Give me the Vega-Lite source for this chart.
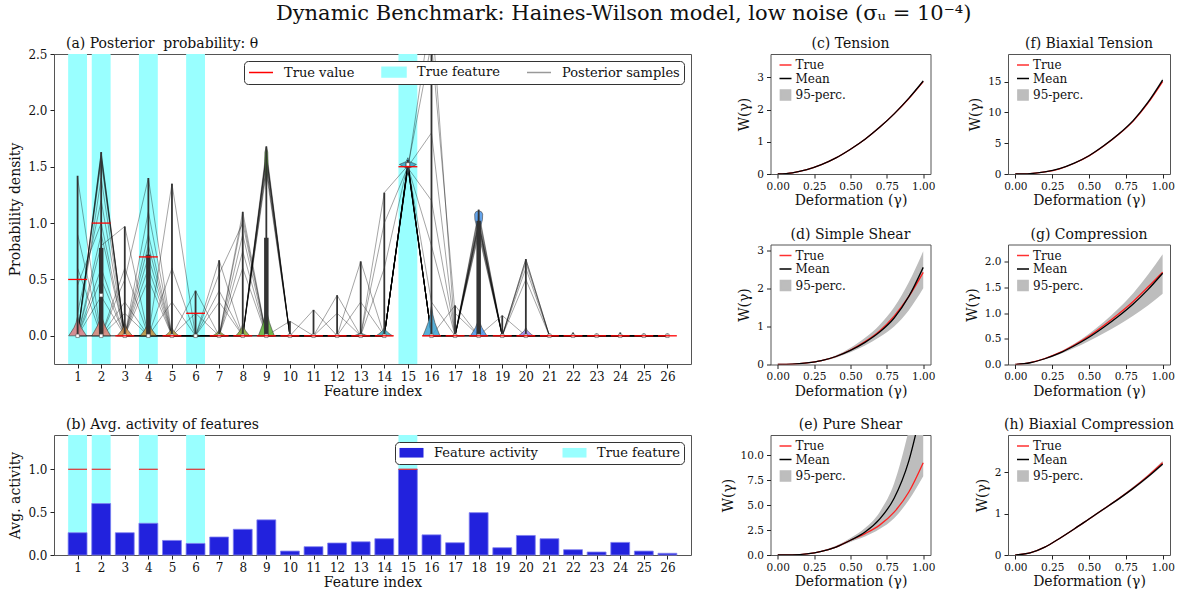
{
"$schema": "https://vega.github.io/schema/vega-lite/v6.json",
"padding": {"left": 8, "top": 3, "right": 5, "bottom": 5},
"title": {"text": "Dynamic Benchmark: Haines-Wilson model, low noise (σᵤ = 10⁻⁴)", "fontSize": 21, "anchor": "middle", "offset": 12.5, "dx": 32, "frame": "bounds"},
"spacing": 28.5,
"resolve": {"scale": {"color": "independent", "fill": "independent", "stroke": "independent", "shape": "independent"}, "legend": {"color": "independent", "fill": "independent", "stroke": "independent", "shape": "independent"}},
"datasets": {
"samples": [
{"s":1,"f":1,"v":0},{"s":1,"f":2,"v":1.6},{"s":1,"f":3,"v":0},{"s":1,"f":4,"v":0},{"s":1,"f":5,"v":0},{"s":1,"f":6,"v":0},{"s":1,"f":7,"v":0},{"s":1,"f":8,"v":0},{"s":1,"f":9,"v":1.6},{"s":1,"f":10,"v":0},{"s":1,"f":11,"v":0},{"s":1,"f":12,"v":0},{"s":1,"f":13,"v":0},{"s":1,"f":14,"v":0},{"s":1,"f":15,"v":1.52},{"s":1,"f":16,"v":0},{"s":1,"f":17,"v":0},{"s":1,"f":18,"v":1.0},{"s":1,"f":19,"v":0},{"s":1,"f":20,"v":0},{"s":1,"f":21,"v":0},{"s":1,"f":22,"v":0},{"s":1,"f":23,"v":0},{"s":1,"f":24,"v":0},{"s":1,"f":25,"v":0},{"s":1,"f":26,"v":0},
{"s":2,"f":1,"v":0},{"s":2,"f":2,"v":1.55},{"s":2,"f":3,"v":0},{"s":2,"f":4,"v":0},{"s":2,"f":5,"v":0},{"s":2,"f":6,"v":0},{"s":2,"f":7,"v":0},{"s":2,"f":8,"v":1.05},{"s":2,"f":9,"v":0},{"s":2,"f":10,"v":0},{"s":2,"f":11,"v":0},{"s":2,"f":12,"v":0},{"s":2,"f":13,"v":0},{"s":2,"f":14,"v":0},{"s":2,"f":15,"v":1.5},{"s":2,"f":16,"v":0},{"s":2,"f":17,"v":0},{"s":2,"f":18,"v":0.95},{"s":2,"f":19,"v":0},{"s":2,"f":20,"v":0.65},{"s":2,"f":21,"v":0},{"s":2,"f":22,"v":0},{"s":2,"f":23,"v":0},{"s":2,"f":24,"v":0},{"s":2,"f":25,"v":0},{"s":2,"f":26,"v":0},
{"s":3,"f":1,"v":0.45},{"s":3,"f":2,"v":1.0},{"s":3,"f":3,"v":0},{"s":3,"f":4,"v":0.9},{"s":3,"f":5,"v":0},{"s":3,"f":6,"v":0},{"s":3,"f":7,"v":0},{"s":3,"f":8,"v":0},{"s":3,"f":9,"v":1.55},{"s":3,"f":10,"v":0},{"s":3,"f":11,"v":0},{"s":3,"f":12,"v":0},{"s":3,"f":13,"v":0},{"s":3,"f":14,"v":0},{"s":3,"f":15,"v":1.52},{"s":3,"f":16,"v":0.3},{"s":3,"f":17,"v":0},{"s":3,"f":18,"v":0},{"s":3,"f":19,"v":0},{"s":3,"f":20,"v":0},{"s":3,"f":21,"v":0},{"s":3,"f":22,"v":0},{"s":3,"f":23,"v":0},{"s":3,"f":24,"v":0},{"s":3,"f":25,"v":0},{"s":3,"f":26,"v":0},
{"s":4,"f":1,"v":0},{"s":4,"f":2,"v":0.8},{"s":4,"f":3,"v":0.97},{"s":4,"f":4,"v":0},{"s":4,"f":5,"v":0},{"s":4,"f":6,"v":0},{"s":4,"f":7,"v":0},{"s":4,"f":8,"v":0},{"s":4,"f":9,"v":1.65},{"s":4,"f":10,"v":0},{"s":4,"f":11,"v":0},{"s":4,"f":12,"v":0},{"s":4,"f":13,"v":0},{"s":4,"f":14,"v":0},{"s":4,"f":15,"v":1.5},{"s":4,"f":16,"v":0},{"s":4,"f":17,"v":0},{"s":4,"f":18,"v":1.05},{"s":4,"f":19,"v":0},{"s":4,"f":20,"v":0},{"s":4,"f":21,"v":0},{"s":4,"f":22,"v":0},{"s":4,"f":23,"v":0},{"s":4,"f":24,"v":0},{"s":4,"f":25,"v":0},{"s":4,"f":26,"v":0},
{"s":5,"f":1,"v":1.4},{"s":5,"f":2,"v":0},{"s":5,"f":3,"v":0},{"s":5,"f":4,"v":0.7},{"s":5,"f":5,"v":0},{"s":5,"f":6,"v":0},{"s":5,"f":7,"v":0},{"s":5,"f":8,"v":0},{"s":5,"f":9,"v":0},{"s":5,"f":10,"v":0},{"s":5,"f":11,"v":0},{"s":5,"f":12,"v":0},{"s":5,"f":13,"v":0},{"s":5,"f":14,"v":0},{"s":5,"f":15,"v":1.53},{"s":5,"f":16,"v":0},{"s":5,"f":17,"v":0},{"s":5,"f":18,"v":0.9},{"s":5,"f":19,"v":0},{"s":5,"f":20,"v":0},{"s":5,"f":21,"v":0},{"s":5,"f":22,"v":0},{"s":5,"f":23,"v":0},{"s":5,"f":24,"v":0},{"s":5,"f":25,"v":0},{"s":5,"f":26,"v":0},
{"s":6,"f":1,"v":0},{"s":6,"f":2,"v":1.62},{"s":6,"f":3,"v":0},{"s":6,"f":4,"v":0},{"s":6,"f":5,"v":1.35},{"s":6,"f":6,"v":0},{"s":6,"f":7,"v":0},{"s":6,"f":8,"v":0.6},{"s":6,"f":9,"v":0},{"s":6,"f":10,"v":0},{"s":6,"f":11,"v":0},{"s":6,"f":12,"v":0},{"s":6,"f":13,"v":0},{"s":6,"f":14,"v":0},{"s":6,"f":15,"v":1.48},{"s":6,"f":16,"v":2.9},{"s":6,"f":17,"v":0},{"s":6,"f":18,"v":0},{"s":6,"f":19,"v":0},{"s":6,"f":20,"v":0},{"s":6,"f":21,"v":0},{"s":6,"f":22,"v":0},{"s":6,"f":23,"v":0},{"s":6,"f":24,"v":0},{"s":6,"f":25,"v":0},{"s":6,"f":26,"v":0},
{"s":7,"f":1,"v":0},{"s":7,"f":2,"v":0},{"s":7,"f":3,"v":0.5},{"s":7,"f":4,"v":1.4},{"s":7,"f":5,"v":0},{"s":7,"f":6,"v":0},{"s":7,"f":7,"v":0.67},{"s":7,"f":8,"v":0},{"s":7,"f":9,"v":1.5},{"s":7,"f":10,"v":0},{"s":7,"f":11,"v":0},{"s":7,"f":12,"v":0},{"s":7,"f":13,"v":0},{"s":7,"f":14,"v":0},{"s":7,"f":15,"v":1.52},{"s":7,"f":16,"v":0},{"s":7,"f":17,"v":0},{"s":7,"f":18,"v":0},{"s":7,"f":19,"v":0},{"s":7,"f":20,"v":0.68},{"s":7,"f":21,"v":0},{"s":7,"f":22,"v":0},{"s":7,"f":23,"v":0},{"s":7,"f":24,"v":0},{"s":7,"f":25,"v":0},{"s":7,"f":26,"v":0},
{"s":8,"f":1,"v":0},{"s":8,"f":2,"v":0.35},{"s":8,"f":3,"v":0},{"s":8,"f":4,"v":0},{"s":8,"f":5,"v":0},{"s":8,"f":6,"v":0.4},{"s":8,"f":7,"v":0},{"s":8,"f":8,"v":1.1},{"s":8,"f":9,"v":0},{"s":8,"f":10,"v":0},{"s":8,"f":11,"v":0},{"s":8,"f":12,"v":0},{"s":8,"f":13,"v":0.66},{"s":8,"f":14,"v":0},{"s":8,"f":15,"v":1.5},{"s":8,"f":16,"v":0},{"s":8,"f":17,"v":0},{"s":8,"f":18,"v":1.0},{"s":8,"f":19,"v":0},{"s":8,"f":20,"v":0},{"s":8,"f":21,"v":0},{"s":8,"f":22,"v":0},{"s":8,"f":23,"v":0},{"s":8,"f":24,"v":0},{"s":8,"f":25,"v":0},{"s":8,"f":26,"v":0},
{"s":9,"f":1,"v":0.2},{"s":9,"f":2,"v":1.2},{"s":9,"f":3,"v":0},{"s":9,"f":4,"v":0},{"s":9,"f":5,"v":0},{"s":9,"f":6,"v":0},{"s":9,"f":7,"v":0},{"s":9,"f":8,"v":0},{"s":9,"f":9,"v":1.62},{"s":9,"f":10,"v":0},{"s":9,"f":11,"v":0},{"s":9,"f":12,"v":0},{"s":9,"f":13,"v":0},{"s":9,"f":14,"v":1.27},{"s":9,"f":15,"v":1.51},{"s":9,"f":16,"v":0},{"s":9,"f":17,"v":0.27},{"s":9,"f":18,"v":0},{"s":9,"f":19,"v":0},{"s":9,"f":20,"v":0},{"s":9,"f":21,"v":0},{"s":9,"f":22,"v":0},{"s":9,"f":23,"v":0},{"s":9,"f":24,"v":0},{"s":9,"f":25,"v":0},{"s":9,"f":26,"v":0},
{"s":10,"f":1,"v":0},{"s":10,"f":2,"v":0.6},{"s":10,"f":3,"v":0},{"s":10,"f":4,"v":0.5},{"s":10,"f":5,"v":0},{"s":10,"f":6,"v":0},{"s":10,"f":7,"v":0.4},{"s":10,"f":8,"v":0},{"s":10,"f":9,"v":0},{"s":10,"f":10,"v":0},{"s":10,"f":11,"v":0},{"s":10,"f":12,"v":0.36},{"s":10,"f":13,"v":0},{"s":10,"f":14,"v":0},{"s":10,"f":15,"v":1.52},{"s":10,"f":16,"v":0},{"s":10,"f":17,"v":0},{"s":10,"f":18,"v":1.08},{"s":10,"f":19,"v":0},{"s":10,"f":20,"v":0},{"s":10,"f":21,"v":0},{"s":10,"f":22,"v":0},{"s":10,"f":23,"v":0},{"s":10,"f":24,"v":0},{"s":10,"f":25,"v":0},{"s":10,"f":26,"v":0},
{"s":11,"f":1,"v":0},{"s":11,"f":2,"v":0},{"s":11,"f":3,"v":0.3},{"s":11,"f":4,"v":0},{"s":11,"f":5,"v":0.6},{"s":11,"f":6,"v":0},{"s":11,"f":7,"v":0},{"s":11,"f":8,"v":0},{"s":11,"f":9,"v":1.45},{"s":11,"f":10,"v":0},{"s":11,"f":11,"v":0},{"s":11,"f":12,"v":0},{"s":11,"f":13,"v":0},{"s":11,"f":14,"v":0},{"s":11,"f":15,"v":1.49},{"s":11,"f":16,"v":1.2},{"s":11,"f":17,"v":0},{"s":11,"f":18,"v":0},{"s":11,"f":19,"v":0},{"s":11,"f":20,"v":0.5},{"s":11,"f":21,"v":0},{"s":11,"f":22,"v":0},{"s":11,"f":23,"v":0},{"s":11,"f":24,"v":0},{"s":11,"f":25,"v":0},{"s":11,"f":26,"v":0},
{"s":12,"f":1,"v":0},{"s":12,"f":2,"v":1.58},{"s":12,"f":3,"v":0},{"s":12,"f":4,"v":0},{"s":12,"f":5,"v":0},{"s":12,"f":6,"v":0},{"s":12,"f":7,"v":0},{"s":12,"f":8,"v":0.9},{"s":12,"f":9,"v":0},{"s":12,"f":10,"v":0},{"s":12,"f":11,"v":0.23},{"s":12,"f":12,"v":0},{"s":12,"f":13,"v":0},{"s":12,"f":14,"v":0},{"s":12,"f":15,"v":1.52},{"s":12,"f":16,"v":0},{"s":12,"f":17,"v":0},{"s":12,"f":18,"v":0.98},{"s":12,"f":19,"v":0},{"s":12,"f":20,"v":0},{"s":12,"f":21,"v":0},{"s":12,"f":22,"v":0},{"s":12,"f":23,"v":0},{"s":12,"f":24,"v":0},{"s":12,"f":25,"v":0},{"s":12,"f":26,"v":0},
{"s":13,"f":1,"v":0.6},{"s":13,"f":2,"v":0},{"s":13,"f":3,"v":0},{"s":13,"f":4,"v":1.1},{"s":13,"f":5,"v":0},{"s":13,"f":6,"v":0.2},{"s":13,"f":7,"v":0},{"s":13,"f":8,"v":0},{"s":13,"f":9,"v":1.6},{"s":13,"f":10,"v":0},{"s":13,"f":11,"v":0},{"s":13,"f":12,"v":0},{"s":13,"f":13,"v":0},{"s":13,"f":14,"v":0},{"s":13,"f":15,"v":1.5},{"s":13,"f":16,"v":0},{"s":13,"f":17,"v":0},{"s":13,"f":18,"v":0},{"s":13,"f":19,"v":0.18},{"s":13,"f":20,"v":0},{"s":13,"f":21,"v":0},{"s":13,"f":22,"v":0},{"s":13,"f":23,"v":0},{"s":13,"f":24,"v":0},{"s":13,"f":25,"v":0},{"s":13,"f":26,"v":0},
{"s":14,"f":1,"v":0},{"s":14,"f":2,"v":0.9},{"s":14,"f":3,"v":0},{"s":14,"f":4,"v":0},{"s":14,"f":5,"v":0},{"s":14,"f":6,"v":0},{"s":14,"f":7,"v":0.3},{"s":14,"f":8,"v":0},{"s":14,"f":9,"v":0},{"s":14,"f":10,"v":0},{"s":14,"f":11,"v":0},{"s":14,"f":12,"v":0},{"s":14,"f":13,"v":0},{"s":14,"f":14,"v":0.6},{"s":14,"f":15,"v":1.53},{"s":14,"f":16,"v":0},{"s":14,"f":17,"v":0},{"s":14,"f":18,"v":1.02},{"s":14,"f":19,"v":0},{"s":14,"f":20,"v":0},{"s":14,"f":21,"v":0},{"s":14,"f":22,"v":0},{"s":14,"f":23,"v":0},{"s":14,"f":24,"v":0},{"s":14,"f":25,"v":0},{"s":14,"f":26,"v":0},
{"s":15,"f":1,"v":0},{"s":15,"f":2,"v":0},{"s":15,"f":3,"v":0.6},{"s":15,"f":4,"v":0},{"s":15,"f":5,"v":0},{"s":15,"f":6,"v":0},{"s":15,"f":7,"v":0},{"s":15,"f":8,"v":0.75},{"s":15,"f":9,"v":0},{"s":15,"f":10,"v":0},{"s":15,"f":11,"v":0},{"s":15,"f":12,"v":0},{"s":15,"f":13,"v":0},{"s":15,"f":14,"v":0},{"s":15,"f":15,"v":1.5},{"s":15,"f":16,"v":0.8},{"s":15,"f":17,"v":0},{"s":15,"f":18,"v":0},{"s":15,"f":19,"v":0},{"s":15,"f":20,"v":0.6},{"s":15,"f":21,"v":0},{"s":15,"f":22,"v":0},{"s":15,"f":23,"v":0},{"s":15,"f":24,"v":0},{"s":15,"f":25,"v":0},{"s":15,"f":26,"v":0},
{"s":16,"f":1,"v":0},{"s":16,"f":2,"v":1.4},{"s":16,"f":3,"v":0},{"s":16,"f":4,"v":0},{"s":16,"f":5,"v":0},{"s":16,"f":6,"v":0},{"s":16,"f":7,"v":0},{"s":16,"f":8,"v":0},{"s":16,"f":9,"v":1.58},{"s":16,"f":10,"v":0},{"s":16,"f":11,"v":0},{"s":16,"f":12,"v":0},{"s":16,"f":13,"v":0.3},{"s":16,"f":14,"v":0},{"s":16,"f":15,"v":1.52},{"s":16,"f":16,"v":0},{"s":16,"f":17,"v":0},{"s":16,"f":18,"v":0.92},{"s":16,"f":19,"v":0},{"s":16,"f":20,"v":0},{"s":16,"f":21,"v":0},{"s":16,"f":22,"v":0},{"s":16,"f":23,"v":0},{"s":16,"f":24,"v":0},{"s":16,"f":25,"v":0},{"s":16,"f":26,"v":0},
{"s":17,"f":1,"v":0.9},{"s":17,"f":2,"v":0},{"s":17,"f":3,"v":0},{"s":17,"f":4,"v":0},{"s":17,"f":5,"v":0.3},{"s":17,"f":6,"v":0},{"s":17,"f":7,"v":0},{"s":17,"f":8,"v":0},{"s":17,"f":9,"v":0},{"s":17,"f":10,"v":0.13},{"s":17,"f":11,"v":0},{"s":17,"f":12,"v":0},{"s":17,"f":13,"v":0},{"s":17,"f":14,"v":0},{"s":17,"f":15,"v":1.51},{"s":17,"f":16,"v":0},{"s":17,"f":17,"v":0},{"s":17,"f":18,"v":1.1},{"s":17,"f":19,"v":0},{"s":17,"f":20,"v":0},{"s":17,"f":21,"v":0},{"s":17,"f":22,"v":0},{"s":17,"f":23,"v":0},{"s":17,"f":24,"v":0},{"s":17,"f":25,"v":0},{"s":17,"f":26,"v":0},
{"s":18,"f":1,"v":0},{"s":18,"f":2,"v":1.63},{"s":18,"f":3,"v":0},{"s":18,"f":4,"v":0.6},{"s":18,"f":5,"v":0},{"s":18,"f":6,"v":0},{"s":18,"f":7,"v":0},{"s":18,"f":8,"v":0},{"s":18,"f":9,"v":1.5},{"s":18,"f":10,"v":0},{"s":18,"f":11,"v":0},{"s":18,"f":12,"v":0.2},{"s":18,"f":13,"v":0},{"s":18,"f":14,"v":0},{"s":18,"f":15,"v":1.5},{"s":18,"f":16,"v":1.8},{"s":18,"f":17,"v":0},{"s":18,"f":18,"v":0},{"s":18,"f":19,"v":0},{"s":18,"f":20,"v":0},{"s":18,"f":21,"v":0},{"s":18,"f":22,"v":0},{"s":18,"f":23,"v":0},{"s":18,"f":24,"v":0},{"s":18,"f":25,"v":0},{"s":18,"f":26,"v":0},
{"s":19,"f":1,"v":0},{"s":19,"f":2,"v":0},{"s":19,"f":3,"v":0.2},{"s":19,"f":4,"v":0},{"s":19,"f":5,"v":0},{"s":19,"f":6,"v":0},{"s":19,"f":7,"v":0.55},{"s":19,"f":8,"v":1.0},{"s":19,"f":9,"v":0},{"s":19,"f":10,"v":0},{"s":19,"f":11,"v":0},{"s":19,"f":12,"v":0},{"s":19,"f":13,"v":0},{"s":19,"f":14,"v":0},{"s":19,"f":15,"v":1.52},{"s":19,"f":16,"v":0},{"s":19,"f":17,"v":0},{"s":19,"f":18,"v":0.97},{"s":19,"f":19,"v":0},{"s":19,"f":20,"v":0.68},{"s":19,"f":21,"v":0},{"s":19,"f":22,"v":0},{"s":19,"f":23,"v":0},{"s":19,"f":24,"v":0},{"s":19,"f":25,"v":0},{"s":19,"f":26,"v":0},
{"s":20,"f":1,"v":0},{"s":20,"f":2,"v":0.5},{"s":20,"f":3,"v":0},{"s":20,"f":4,"v":0.8},{"s":20,"f":5,"v":0},{"s":20,"f":6,"v":0},{"s":20,"f":7,"v":0},{"s":20,"f":8,"v":0},{"s":20,"f":9,"v":0},{"s":20,"f":10,"v":0},{"s":20,"f":11,"v":0},{"s":20,"f":12,"v":0},{"s":20,"f":13,"v":0},{"s":20,"f":14,"v":1.0},{"s":20,"f":15,"v":1.5},{"s":20,"f":16,"v":2.6},{"s":20,"f":17,"v":0.2},{"s":20,"f":18,"v":0},{"s":20,"f":19,"v":0},{"s":20,"f":20,"v":0},{"s":20,"f":21,"v":0},{"s":20,"f":22,"v":0},{"s":20,"f":23,"v":0},{"s":20,"f":24,"v":0},{"s":20,"f":25,"v":0},{"s":20,"f":26,"v":0}
],
"violins": [
{"f":1,"p":1,"y":0,"w":0.38},{"f":1,"p":1,"y":0.033,"w":0.274},{"f":1,"p":1,"y":0.074,"w":0.152},{"f":1,"p":1,"y":0.119,"w":0.061},{"f":1,"p":1,"y":0.165,"w":0.011},
{"f":2,"p":2,"y":0,"w":0.4},{"f":2,"p":2,"y":0.04,"w":0.288},{"f":2,"p":2,"y":0.09,"w":0.16},{"f":2,"p":2,"y":0.144,"w":0.064},{"f":2,"p":2,"y":0.2,"w":0.012},
{"f":3,"p":3,"y":0,"w":0.33},{"f":3,"p":3,"y":0.022,"w":0.238},{"f":3,"p":3,"y":0.05,"w":0.132},{"f":3,"p":3,"y":0.079,"w":0.053},{"f":3,"p":3,"y":0.11,"w":0.01},
{"f":4,"p":4,"y":0,"w":0.35},{"f":4,"p":4,"y":0.026,"w":0.252},{"f":4,"p":4,"y":0.059,"w":0.14},{"f":4,"p":4,"y":0.094,"w":0.056},{"f":4,"p":4,"y":0.13,"w":0.01},
{"f":5,"p":5,"y":0,"w":0.3},{"f":5,"p":5,"y":0.014,"w":0.216},{"f":5,"p":5,"y":0.032,"w":0.12},{"f":5,"p":5,"y":0.05,"w":0.048},{"f":5,"p":5,"y":0.07,"w":0.009},
{"f":6,"p":6,"y":0,"w":0.2},{"f":6,"p":6,"y":0.004,"w":0.144},{"f":6,"p":6,"y":0.009,"w":0.08},{"f":6,"p":6,"y":0.014,"w":0.032},{"f":6,"p":6,"y":0.02,"w":0.006},
{"f":7,"p":7,"y":0,"w":0.28},{"f":7,"p":7,"y":0.01,"w":0.2},{"f":7,"p":7,"y":0.023,"w":0.112},{"f":7,"p":7,"y":0.036,"w":0.045},{"f":7,"p":7,"y":0.05,"w":0.008},
{"f":8,"p":8,"y":0,"w":0.3},{"f":8,"p":8,"y":0.02,"w":0.216},{"f":8,"p":8,"y":0.045,"w":0.12},{"f":8,"p":8,"y":0.072,"w":0.048},{"f":8,"p":8,"y":0.1,"w":0.009},
{"f":9,"p":9,"y":0,"w":0.34},{"f":9,"p":9,"y":0.052,"w":0.245},{"f":9,"p":9,"y":0.117,"w":0.136},{"f":9,"p":9,"y":0.187,"w":0.054},{"f":9,"p":9,"y":0.26,"w":0.01},
{"f":9,"p":109,"y":1.3,"w":0},{"f":9,"p":109,"y":1.42,"w":0.04},{"f":9,"p":109,"y":1.55,"w":0.07},{"f":9,"p":109,"y":1.63,"w":0.06},{"f":9,"p":109,"y":1.68,"w":0},
{"f":13,"p":13,"y":0,"w":0.3},{"f":13,"p":13,"y":0.006,"w":0.216},{"f":13,"p":13,"y":0.014,"w":0.12},{"f":13,"p":13,"y":0.022,"w":0.048},{"f":13,"p":13,"y":0.03,"w":0.009},
{"f":14,"p":14,"y":0,"w":0.35},{"f":14,"p":14,"y":0.014,"w":0.252},{"f":14,"p":14,"y":0.032,"w":0.14},{"f":14,"p":14,"y":0.05,"w":0.056},{"f":14,"p":14,"y":0.07,"w":0.01},
{"f":15,"p":15,"y":1.43,"w":0},{"f":15,"p":15,"y":1.49,"w":0.08},{"f":15,"p":15,"y":1.52,"w":0.36},{"f":15,"p":15,"y":1.545,"w":0.08},{"f":15,"p":15,"y":1.58,"w":0},
{"f":16,"p":16,"y":0,"w":0.36},{"f":16,"p":16,"y":0.052,"w":0.259},{"f":16,"p":16,"y":0.117,"w":0.144},{"f":16,"p":16,"y":0.187,"w":0.058},{"f":16,"p":16,"y":0.26,"w":0.011},
{"f":18,"p":18,"y":0,"w":0.35},{"f":18,"p":18,"y":0.032,"w":0.252},{"f":18,"p":18,"y":0.072,"w":0.14},{"f":18,"p":18,"y":0.115,"w":0.056},{"f":18,"p":18,"y":0.16,"w":0.01},
{"f":18,"p":118,"y":0.9,"w":0},{"f":18,"p":118,"y":0.97,"w":0.08},{"f":18,"p":118,"y":1.03,"w":0.16},{"f":18,"p":118,"y":1.08,"w":0.17},{"f":18,"p":118,"y":1.1,"w":0.12},{"f":18,"p":118,"y":1.11,"w":0},
{"f":20,"p":20,"y":0,"w":0.32},{"f":20,"p":20,"y":0.014,"w":0.23},{"f":20,"p":20,"y":0.032,"w":0.128},{"f":20,"p":20,"y":0.05,"w":0.051},{"f":20,"p":20,"y":0.07,"w":0.01}
],
"extents": [
{"f":1,"lo":0,"hi":1.42},{"f":2,"lo":0,"hi":1.63},{"f":3,"lo":0,"hi":0.97},{"f":4,"lo":0,"hi":1.4},{"f":5,"lo":0,"hi":1.35},{"f":6,"lo":0,"hi":0.4},{"f":7,"lo":0,"hi":0.67},{"f":8,"lo":0,"hi":1.1},{"f":9,"lo":0,"hi":1.68},{"f":10,"lo":0,"hi":0.13},{"f":11,"lo":0,"hi":0.23},{"f":12,"lo":0,"hi":0.36},{"f":13,"lo":0,"hi":0.66},{"f":14,"lo":0,"hi":1.27},{"f":15,"lo":1.45,"hi":1.56},{"f":16,"lo":0,"hi":2.6},{"f":17,"lo":0,"hi":0.27},{"f":18,"lo":0,"hi":1.12},{"f":19,"lo":0,"hi":0.18},{"f":20,"lo":0,"hi":0.68},{"f":21,"lo":0,"hi":0.02},{"f":22,"lo":0,"hi":0.03},{"f":23,"lo":0,"hi":0.02},{"f":24,"lo":0,"hi":0.03},{"f":25,"lo":0,"hi":0.02},{"f":26,"lo":0,"hi":0.02}
],
"iqr": [
{"f":2,"lo":0,"hi":0.78},{"f":4,"lo":0,"hi":0.72},{"f":9,"lo":0,"hi":0.87},{"f":18,"lo":0,"hi":1.02},{"f":15,"lo":1.49,"hi":1.54}
],
"medians": [
{"f":1,"v":0},{"f":2,"v":0},{"f":2,"v":0.36},{"f":3,"v":0},{"f":4,"v":0},{"f":5,"v":0},{"f":6,"v":0},{"f":7,"v":0},{"f":8,"v":0},{"f":9,"v":0},{"f":10,"v":0},{"f":11,"v":0},{"f":12,"v":0},{"f":13,"v":0},{"f":14,"v":0},{"f":15,"v":1.52},{"f":16,"v":0},{"f":17,"v":0},{"f":18,"v":0},{"f":19,"v":0},{"f":20,"v":0},{"f":21,"v":0},{"f":22,"v":0},{"f":23,"v":0},{"f":24,"v":0},{"f":25,"v":0},{"f":26,"v":0}
],
"truth": [
{"f":1,"v":0.5},{"f":2,"v":1.0},{"f":3,"v":0},{"f":4,"v":0.7},{"f":5,"v":0},{"f":6,"v":0.2},{"f":7,"v":0},{"f":8,"v":0},{"f":9,"v":0},{"f":10,"v":0},{"f":11,"v":0},{"f":12,"v":0},{"f":13,"v":0},{"f":14,"v":0},{"f":15,"v":1.5},{"f":16,"v":0},{"f":17,"v":0},{"f":18,"v":0},{"f":19,"v":0},{"f":20,"v":0},{"f":21,"v":0},{"f":22,"v":0},{"f":23,"v":0},{"f":24,"v":0},{"f":25,"v":0},{"f":26,"v":0}
],
"truefeat": [{"f":1},{"f":2},{"f":4},{"f":6},{"f":15}],
"trueact": [{"f":1,"v":1},{"f":2,"v":1},{"f":4,"v":1},{"f":6,"v":1},{"f":15,"v":1}],
"legA": [{"k":"True value"},{"k":"True feature"},{"k":"Posterior samples"}],
"legS": [{"k":"True"},{"k":"Mean"},{"k":"95-perc."}],
"activity": [
{"f":1,"a":0.26},{"f":2,"a":0.6},{"f":3,"a":0.26},{"f":4,"a":0.37},{"f":5,"a":0.17},{"f":6,"a":0.135},{"f":7,"a":0.21},{"f":8,"a":0.3},{"f":9,"a":0.41},{"f":10,"a":0.046},{"f":11,"a":0.097},{"f":12,"a":0.14},{"f":13,"a":0.154},{"f":14,"a":0.19},{"f":15,"a":1.0},{"f":16,"a":0.235},{"f":17,"a":0.143},{"f":18,"a":0.494},{"f":19,"a":0.085},{"f":20,"a":0.228},{"f":21,"a":0.19},{"f":22,"a":0.062},{"f":23,"a":0.035},{"f":24,"a":0.147},{"f":25,"a":0.046},{"f":26,"a":0.02}
],
"curves": [
{"p":"c","g":0,"t":0,"m":0,"lo":0,"hi":0},{"p":"c","g":0.1,"t":0.037,"m":0.037,"lo":0.035,"hi":0.039},{"p":"c","g":0.2,"t":0.135,"m":0.135,"lo":0.13,"hi":0.14},{"p":"c","g":0.3,"t":0.29,"m":0.29,"lo":0.285,"hi":0.295},{"p":"c","g":0.4,"t":0.5,"m":0.5,"lo":0.49,"hi":0.51},{"p":"c","g":0.5,"t":0.77,"m":0.77,"lo":0.76,"hi":0.78},{"p":"c","g":0.6,"t":1.08,"m":1.08,"lo":1.065,"hi":1.095},{"p":"c","g":0.7,"t":1.45,"m":1.45,"lo":1.43,"hi":1.47},{"p":"c","g":0.8,"t":1.87,"m":1.87,"lo":1.85,"hi":1.89},{"p":"c","g":0.9,"t":2.34,"m":2.35,"lo":2.32,"hi":2.37},{"p":"c","g":1.0,"t":2.87,"m":2.89,"lo":2.85,"hi":2.93},
{"p":"f","g":0,"t":0,"m":0,"lo":0,"hi":0},{"p":"f","g":0.1,"t":0.07,"m":0.07,"lo":0.06,"hi":0.08},{"p":"f","g":0.2,"t":0.33,"m":0.33,"lo":0.31,"hi":0.35},{"p":"f","g":0.3,"t":0.85,"m":0.86,"lo":0.82,"hi":0.9},{"p":"f","g":0.4,"t":1.75,"m":1.76,"lo":1.7,"hi":1.82},{"p":"f","g":0.5,"t":2.95,"m":2.97,"lo":2.88,"hi":3.05},{"p":"f","g":0.6,"t":4.55,"m":4.58,"lo":4.45,"hi":4.7},{"p":"f","g":0.7,"t":6.4,"m":6.45,"lo":6.3,"hi":6.6},{"p":"f","g":0.8,"t":8.6,"m":8.68,"lo":8.5,"hi":8.85},{"p":"f","g":0.9,"t":11.5,"m":11.62,"lo":11.4,"hi":11.85},{"p":"f","g":1.0,"t":15.0,"m":15.25,"lo":14.95,"hi":15.55},
{"p":"d","g":0,"t":0,"m":0,"lo":0,"hi":0},{"p":"d","g":0.1,"t":0.008,"m":0.008,"lo":0.007,"hi":0.01},{"p":"d","g":0.2,"t":0.04,"m":0.04,"lo":0.035,"hi":0.045},{"p":"d","g":0.3,"t":0.1,"m":0.1,"lo":0.085,"hi":0.115},{"p":"d","g":0.4,"t":0.21,"m":0.21,"lo":0.18,"hi":0.24},{"p":"d","g":0.5,"t":0.38,"m":0.37,"lo":0.32,"hi":0.44},{"p":"d","g":0.6,"t":0.6,"m":0.58,"lo":0.5,"hi":0.7},{"p":"d","g":0.7,"t":0.88,"m":0.85,"lo":0.72,"hi":1.04},{"p":"d","g":0.8,"t":1.27,"m":1.22,"lo":1.0,"hi":1.5},{"p":"d","g":0.9,"t":1.78,"m":1.78,"lo":1.42,"hi":2.15},{"p":"d","g":1.0,"t":2.42,"m":2.55,"lo":2.0,"hi":2.97},
{"p":"g","g":0,"t":0,"m":0,"lo":0,"hi":0},{"p":"g","g":0.1,"t":0.036,"m":0.034,"lo":0.03,"hi":0.04},{"p":"g","g":0.2,"t":0.117,"m":0.112,"lo":0.1,"hi":0.125},{"p":"g","g":0.3,"t":0.23,"m":0.22,"lo":0.2,"hi":0.245},{"p":"g","g":0.4,"t":0.38,"m":0.365,"lo":0.32,"hi":0.405},{"p":"g","g":0.5,"t":0.555,"m":0.53,"lo":0.46,"hi":0.6},{"p":"g","g":0.6,"t":0.76,"m":0.725,"lo":0.61,"hi":0.83},{"p":"g","g":0.7,"t":0.985,"m":0.94,"lo":0.77,"hi":1.09},{"p":"g","g":0.8,"t":1.23,"m":1.18,"lo":0.95,"hi":1.39},{"p":"g","g":0.9,"t":1.51,"m":1.46,"lo":1.15,"hi":1.75},{"p":"g","g":1.0,"t":1.8,"m":1.78,"lo":1.38,"hi":2.15},
{"p":"e","g":0,"t":0,"m":0,"lo":0,"hi":0},{"p":"e","g":0.1,"t":0.02,"m":0.02,"lo":0.015,"hi":0.025},{"p":"e","g":0.2,"t":0.12,"m":0.12,"lo":0.1,"hi":0.14},{"p":"e","g":0.3,"t":0.37,"m":0.37,"lo":0.32,"hi":0.42},{"p":"e","g":0.4,"t":0.8,"m":0.8,"lo":0.7,"hi":0.92},{"p":"e","g":0.5,"t":1.48,"m":1.48,"lo":1.3,"hi":1.7},{"p":"e","g":0.6,"t":2.15,"m":2.3,"lo":1.85,"hi":2.7},{"p":"e","g":0.7,"t":3.0,"m":3.6,"lo":2.6,"hi":4.3},{"p":"e","g":0.8,"t":4.3,"m":5.7,"lo":3.7,"hi":7.2},{"p":"e","g":0.9,"t":6.3,"m":9.4,"lo":5.5,"hi":12.5},{"p":"e","g":1.0,"t":9.27,"m":15.5,"lo":7.9,"hi":19},
{"p":"h","g":0,"t":0,"m":0,"lo":0,"hi":0},{"p":"h","g":0.1,"t":0.05,"m":0.05,"lo":0.045,"hi":0.055},{"p":"h","g":0.2,"t":0.19,"m":0.19,"lo":0.18,"hi":0.2},{"p":"h","g":0.3,"t":0.4,"m":0.4,"lo":0.39,"hi":0.41},{"p":"h","g":0.4,"t":0.63,"m":0.63,"lo":0.615,"hi":0.645},{"p":"h","g":0.5,"t":0.87,"m":0.87,"lo":0.85,"hi":0.89},{"p":"h","g":0.6,"t":1.11,"m":1.11,"lo":1.09,"hi":1.13},{"p":"h","g":0.7,"t":1.36,"m":1.35,"lo":1.33,"hi":1.38},{"p":"h","g":0.8,"t":1.62,"m":1.61,"lo":1.58,"hi":1.65},{"p":"h","g":0.9,"t":1.91,"m":1.89,"lo":1.86,"hi":1.94},{"p":"h","g":1.0,"t":2.23,"m":2.2,"lo":2.16,"hi":2.27}
]
},
"hconcat": [
{
"vconcat": [
{
"width": 637, "height": 310,
"title": {"text": "(a) Posterior\u00a0 probability: θ", "anchor": "start", "dx": 12, "offset": -3},
"layer": [
{"data": {"name": "truefeat"},
 "transform": [{"calculate": "datum.f - 0.4", "as": "x0"}, {"calculate": "datum.f + 0.4", "as": "x1"}],
 "mark": {"type": "rect", "color": "#99ffff"},
 "encoding": {
  "x": {"field": "x0", "type": "quantitative", "scale": {"domain": [0, 27], "nice": false, "zero": false}, "axis": {"values": [1,2,3,4,5,6,7,8,9,10,11,12,13,14,15,16,17,18,19,20,21,22,23,24,25,26], "tickCount": 60, "format": "d", "title": "Feature index"}},
  "x2": {"field": "x1"}
 }},
{"data": {"name": "samples"},
 "mark": {"type": "line", "strokeWidth": 0.9, "opacity": 0.4, "color": "#000000", "clip": true},
 "encoding": {
  "x": {"field": "f", "type": "quantitative", "axis": {"tickCount": 60}},
  "y": {"field": "v", "type": "quantitative", "scale": {"domain": [-0.25, 2.5], "nice": false, "zero": false}, "axis": {"values": [0, 0.5, 1, 1.5, 2, 2.5], "tickCount": 60, "format": ".1f", "title": "Probability density"}},
  "detail": {"field": "s", "type": "nominal"}
 }},
{"data": {"name": "violins"},
 "transform": [{"calculate": "datum.f - datum.w", "as": "lo"}, {"calculate": "datum.f + datum.w", "as": "hi"}],
 "mark": {"type": "area", "orient": "horizontal", "stroke": "#222222", "strokeWidth": 0.6, "opacity": 0.85},
 "encoding": {
  "y": {"field": "y", "type": "quantitative"},
  "x": {"field": "lo", "type": "quantitative"},
  "x2": {"field": "hi"},
  "detail": {"field": "p", "type": "nominal"},
  "color": {"field": "f", "type": "nominal", "legend": null, "scale": {"domain": [1,2,3,4,5,6,7,8,9,10,11,12,13,14,15,16,17,18,19,20,21,22,23,24,25,26], "range": ["#e07a80","#dd7f72","#cc8a45","#c48f3a","#b89836","#a99e34","#98a232","#82a733","#5aad33","#33b072","#35ad90","#36aba0","#37a8ad","#38a6b9","#39a3c4","#3aa0cf","#3c9ce0","#4a95e8","#7a8cf0","#9a86f2","#b87ef2","#cf77ea","#e070da","#ed6cc6","#f46eb2","#f6729c"]}}
 }},
{"data": {"name": "extents"},
 "mark": {"type": "rule", "strokeWidth": 1.8, "color": "#333333", "clip": true},
 "encoding": {"x": {"field": "f", "type": "quantitative"}, "y": {"field": "lo", "type": "quantitative"}, "y2": {"field": "hi"}}},
{"data": {"name": "iqr"},
 "mark": {"type": "rule", "strokeWidth": 4.5, "color": "#333333"},
 "encoding": {"x": {"field": "f", "type": "quantitative"}, "y": {"field": "lo", "type": "quantitative"}, "y2": {"field": "hi"}}},
{"data": {"name": "medians"},
 "mark": {"type": "point", "shape": "square", "filled": true, "fill": "#ffffff", "stroke": "#555555", "strokeWidth": 0.6, "size": 12, "opacity": 1},
 "encoding": {"x": {"field": "f", "type": "quantitative"}, "y": {"field": "v", "type": "quantitative"}}},
{"data": {"name": "truth"},
 "transform": [{"calculate": "datum.f - 0.4", "as": "x0"}, {"calculate": "datum.f + 0.4", "as": "x1"}],
 "mark": {"type": "rule", "strokeWidth": 1.3, "color": "#ff0000"},
 "encoding": {"x": {"field": "x0", "type": "quantitative"}, "x2": {"field": "x1"}, "y": {"field": "v", "type": "quantitative"}}},
{"data": {"name": "legA"},
 "mark": {"type": "point", "opacity": 0},
 "encoding": {
  "x": {"datum": 1, "type": "quantitative"}, "y": {"datum": 0, "type": "quantitative"},
  "fill": {"field": "k", "type": "nominal", "scale": {"domain": ["True value", "True feature", "Posterior samples"], "range": ["transparent", "#99ffff", "transparent"]},
   "legend": {"title": null, "orient": "top-right", "direction": "horizontal", "columns": 3, "offset": 7, "padding": 4, "strokeColor": "#333", "cornerRadius": 4, "fillColor": "#ffffff", "symbolSize": 144, "symbolOffset": 6, "labelOffset": 16, "columnPadding": 24, "labelFontSize": 13, "symbolOpacity": 1, "symbolStrokeWidth": 1.5}},
  "stroke": {"field": "k", "type": "nominal", "scale": {"domain": ["True value", "True feature", "Posterior samples"], "range": ["#ff0000", "#99ffff", "#999999"]},
   "legend": {"title": null, "orient": "top-right", "direction": "horizontal", "columns": 3, "offset": 7, "padding": 4, "strokeColor": "#333", "cornerRadius": 4, "fillColor": "#ffffff", "symbolSize": 144, "symbolOffset": 6, "labelOffset": 16, "columnPadding": 24, "labelFontSize": 13, "symbolOpacity": 1, "symbolStrokeWidth": 1.5}},
  "shape": {"field": "k", "type": "nominal", "scale": {"domain": ["True value", "True feature", "Posterior samples"], "range": ["M-2,0H2", "M-2,-0.8H2V0.8H-2Z", "M-2,0H2"]},
   "legend": {"title": null, "orient": "top-right", "direction": "horizontal", "columns": 3, "offset": 7, "padding": 4, "strokeColor": "#333", "cornerRadius": 4, "fillColor": "#ffffff", "symbolSize": 144, "symbolOffset": 6, "labelOffset": 16, "columnPadding": 24, "labelFontSize": 13, "symbolOpacity": 1, "symbolStrokeWidth": 1.5}}
 }}
]
},
{
"width": 637, "height": 120,
"title": {"text": "(b) Avg. activity of features", "anchor": "start", "dx": 12},
"layer": [
{"data": {"name": "truefeat"},
 "transform": [{"calculate": "datum.f - 0.4", "as": "x0"}, {"calculate": "datum.f + 0.4", "as": "x1"}],
 "mark": {"type": "rect"},
 "encoding": {
  "x": {"field": "x0", "type": "quantitative", "scale": {"domain": [0, 27], "nice": false, "zero": false}, "axis": {"values": [1,2,3,4,5,6,7,8,9,10,11,12,13,14,15,16,17,18,19,20,21,22,23,24,25,26], "tickCount": 60, "format": "d", "title": "Feature index"}},
  "x2": {"field": "x1"},
  "color": {"datum": "True feature", "type": "nominal",
   "scale": {"domain": ["Feature activity", "True feature"], "range": ["#2222dd", "#99ffff"]},
   "legend": {"title": null, "orient": "top-right", "direction": "horizontal", "columns": 2, "offset": 7, "padding": 4, "strokeColor": "#333", "cornerRadius": 4, "fillColor": "#ffffff", "symbolSize": 144, "symbolOffset": 6, "labelOffset": 16, "columnPadding": 24, "labelFontSize": 13, "symbolType": "M-2,-0.8H2V0.8H-2Z", "symbolOpacity": 1, "symbolStrokeWidth": 0}}
 }},
{"data": {"name": "activity"},
 "transform": [{"calculate": "datum.f - 0.4", "as": "x0"}, {"calculate": "datum.f + 0.4", "as": "x1"}],
 "mark": {"type": "rect", "stroke": "#8080f0", "strokeWidth": 0.8},
 "encoding": {
  "x": {"field": "x0", "type": "quantitative", "axis": {"tickCount": 60}}, "x2": {"field": "x1"},
  "y": {"field": "a", "type": "quantitative", "scale": {"domain": [0, 1.4], "nice": false}, "axis": {"values": [0, 0.5, 1.0], "tickCount": 60, "format": ".1f", "title": "Avg. activity"}},
  "y2": {"datum": 0},
  "color": {"datum": "Feature activity", "type": "nominal"}
 }},
{"data": {"name": "trueact"},
 "transform": [{"calculate": "datum.f - 0.4", "as": "x0"}, {"calculate": "datum.f + 0.4", "as": "x1"}],
 "mark": {"type": "rule", "strokeWidth": 1.2, "color": "#e03030"},
 "encoding": {"x": {"field": "x0", "type": "quantitative", "axis": {"tickCount": 60}}, "x2": {"field": "x1"}, "y": {"field": "v", "type": "quantitative"}}}
]
}
],
"spacing": 71, "bounds": "flush",
"resolve": {"scale": {"color": "independent", "fill": "independent", "stroke": "independent", "shape": "independent"}, "legend": {"color": "independent", "fill": "independent", "stroke": "independent", "shape": "independent"}}
},
{
"vconcat": [
{"width": 160, "height": 120, "title": "(c) Tension",
 "encoding": {"x": {"field": "g", "type": "quantitative", "scale": {"domain": [-0.05, 1.05], "nice": false}, "axis": {"values": [0, 0.25, 0.5, 0.75, 1], "tickCount": 60, "format": ".2f", "title": "Deformation (γ)", "labelFontSize": 10.5}}},
 "layer": [
  {"data": {"name": "curves"}, "transform": [{"filter": "datum.p === 'c'"}], "mark": {"type": "area", "interpolate": "monotone", "clip": true, "color": "#bdbdbd"}, "encoding": {"y": {"field": "lo", "type": "quantitative", "scale": {"domain": [0, 3.73], "nice": false}, "axis": {"values": [0, 1, 2, 3], "tickCount": 60, "format": "d", "title": "W(γ)", "labelFontSize": 10.5}}, "y2": {"field": "hi"}}},
  {"data": {"name": "curves"}, "transform": [{"filter": "datum.p === 'c'"}], "mark": {"type": "line", "interpolate": "monotone", "strokeWidth": 1.3, "clip": true, "color": "#ff2020"}, "encoding": {"y": {"field": "t", "type": "quantitative", "axis": {"tickCount": 60}}}},
  {"data": {"name": "curves"}, "transform": [{"filter": "datum.p === 'c'"}], "mark": {"type": "line", "interpolate": "monotone", "strokeWidth": 1.3, "clip": true, "color": "#000000"}, "encoding": {"y": {"field": "m", "type": "quantitative", "axis": {"tickCount": 60}}}},
  {"data": {"name": "legS"}, "mark": {"type": "point", "opacity": 0}, "encoding": {"x": {"datum": 0.5, "type": "quantitative"}, "y": {"datum": 0, "type": "quantitative"},
   "fill": {"field": "k", "type": "nominal", "scale": {"domain": ["True", "Mean", "95-perc."], "range": ["transparent", "transparent", "#bdbdbd"]}, "legend": {"title": null, "orient": "top-left", "offset": 5, "padding": 0, "symbolSize": 36, "symbolOffset": 4, "labelOffset": 4, "rowPadding": 1.5, "labelFontSize": 12, "symbolOpacity": 1, "symbolStrokeWidth": 1.5}},
   "stroke": {"field": "k", "type": "nominal", "scale": {"domain": ["True", "Mean", "95-perc."], "range": ["#ff3030", "#000000", "#bdbdbd"]}, "legend": {"title": null, "orient": "top-left", "offset": 5, "padding": 0, "symbolSize": 36, "symbolOffset": 4, "labelOffset": 4, "rowPadding": 1.5, "labelFontSize": 12, "symbolOpacity": 1, "symbolStrokeWidth": 1.5}},
   "shape": {"field": "k", "type": "nominal", "scale": {"domain": ["True", "Mean", "95-perc."], "range": ["M-2,0H2", "M-2,0H2", "M-1.7,-1.7H1.7V1.7H-1.7Z"]}, "legend": {"title": null, "orient": "top-left", "offset": 5, "padding": 0, "symbolSize": 36, "symbolOffset": 4, "labelOffset": 4, "rowPadding": 1.5, "labelFontSize": 12, "symbolOpacity": 1, "symbolStrokeWidth": 1.5}}}}
 ]},
{"width": 160, "height": 120, "title": "(d) Simple Shear",
 "encoding": {"x": {"field": "g", "type": "quantitative", "scale": {"domain": [-0.05, 1.05], "nice": false}, "axis": {"values": [0, 0.25, 0.5, 0.75, 1], "tickCount": 60, "format": ".2f", "title": "Deformation (γ)", "labelFontSize": 10.5}}},
 "layer": [
  {"data": {"name": "curves"}, "transform": [{"filter": "datum.p === 'd'"}], "mark": {"type": "area", "interpolate": "monotone", "clip": true, "color": "#bdbdbd"}, "encoding": {"y": {"field": "lo", "type": "quantitative", "scale": {"domain": [0, 3.15], "nice": false}, "axis": {"values": [0, 1, 2, 3], "tickCount": 60, "format": "d", "title": "W(γ)", "labelFontSize": 10.5}}, "y2": {"field": "hi"}}},
  {"data": {"name": "curves"}, "transform": [{"filter": "datum.p === 'd'"}], "mark": {"type": "line", "interpolate": "monotone", "strokeWidth": 1.3, "clip": true, "color": "#ff2020"}, "encoding": {"y": {"field": "t", "type": "quantitative", "axis": {"tickCount": 60}}}},
  {"data": {"name": "curves"}, "transform": [{"filter": "datum.p === 'd'"}], "mark": {"type": "line", "interpolate": "monotone", "strokeWidth": 1.3, "clip": true, "color": "#000000"}, "encoding": {"y": {"field": "m", "type": "quantitative", "axis": {"tickCount": 60}}}},
  {"data": {"name": "legS"}, "mark": {"type": "point", "opacity": 0}, "encoding": {"x": {"datum": 0.5, "type": "quantitative"}, "y": {"datum": 0, "type": "quantitative"},
   "fill": {"field": "k", "type": "nominal", "scale": {"domain": ["True", "Mean", "95-perc."], "range": ["transparent", "transparent", "#bdbdbd"]}, "legend": {"title": null, "orient": "top-left", "offset": 5, "padding": 0, "symbolSize": 36, "symbolOffset": 4, "labelOffset": 4, "rowPadding": 1.5, "labelFontSize": 12, "symbolOpacity": 1, "symbolStrokeWidth": 1.5}},
   "stroke": {"field": "k", "type": "nominal", "scale": {"domain": ["True", "Mean", "95-perc."], "range": ["#ff3030", "#000000", "#bdbdbd"]}, "legend": {"title": null, "orient": "top-left", "offset": 5, "padding": 0, "symbolSize": 36, "symbolOffset": 4, "labelOffset": 4, "rowPadding": 1.5, "labelFontSize": 12, "symbolOpacity": 1, "symbolStrokeWidth": 1.5}},
   "shape": {"field": "k", "type": "nominal", "scale": {"domain": ["True", "Mean", "95-perc."], "range": ["M-2,0H2", "M-2,0H2", "M-1.7,-1.7H1.7V1.7H-1.7Z"]}, "legend": {"title": null, "orient": "top-left", "offset": 5, "padding": 0, "symbolSize": 36, "symbolOffset": 4, "labelOffset": 4, "rowPadding": 1.5, "labelFontSize": 12, "symbolOpacity": 1, "symbolStrokeWidth": 1.5}}}}
 ]},
{"width": 160, "height": 120, "title": "(e) Pure Shear",
 "encoding": {"x": {"field": "g", "type": "quantitative", "scale": {"domain": [-0.05, 1.05], "nice": false}, "axis": {"values": [0, 0.25, 0.5, 0.75, 1], "tickCount": 60, "format": ".2f", "title": "Deformation (γ)", "labelFontSize": 10.5}}},
 "layer": [
  {"data": {"name": "curves"}, "transform": [{"filter": "datum.p === 'e'"}], "mark": {"type": "area", "interpolate": "monotone", "clip": true, "color": "#bdbdbd"}, "encoding": {"y": {"field": "lo", "type": "quantitative", "scale": {"domain": [0, 12.05], "nice": false}, "axis": {"values": [0, 2.5, 5, 7.5, 10], "tickCount": 60, "format": ".1f", "title": "W(γ)", "labelFontSize": 10.5}}, "y2": {"field": "hi"}}},
  {"data": {"name": "curves"}, "transform": [{"filter": "datum.p === 'e'"}], "mark": {"type": "line", "interpolate": "monotone", "strokeWidth": 1.3, "clip": true, "color": "#ff2020"}, "encoding": {"y": {"field": "t", "type": "quantitative", "axis": {"tickCount": 60}}}},
  {"data": {"name": "curves"}, "transform": [{"filter": "datum.p === 'e'"}], "mark": {"type": "line", "interpolate": "monotone", "strokeWidth": 1.3, "clip": true, "color": "#000000"}, "encoding": {"y": {"field": "m", "type": "quantitative", "axis": {"tickCount": 60}}}},
  {"data": {"name": "legS"}, "mark": {"type": "point", "opacity": 0}, "encoding": {"x": {"datum": 0.5, "type": "quantitative"}, "y": {"datum": 0, "type": "quantitative"},
   "fill": {"field": "k", "type": "nominal", "scale": {"domain": ["True", "Mean", "95-perc."], "range": ["transparent", "transparent", "#bdbdbd"]}, "legend": {"title": null, "orient": "top-left", "offset": 5, "padding": 0, "symbolSize": 36, "symbolOffset": 4, "labelOffset": 4, "rowPadding": 1.5, "labelFontSize": 12, "symbolOpacity": 1, "symbolStrokeWidth": 1.5}},
   "stroke": {"field": "k", "type": "nominal", "scale": {"domain": ["True", "Mean", "95-perc."], "range": ["#ff3030", "#000000", "#bdbdbd"]}, "legend": {"title": null, "orient": "top-left", "offset": 5, "padding": 0, "symbolSize": 36, "symbolOffset": 4, "labelOffset": 4, "rowPadding": 1.5, "labelFontSize": 12, "symbolOpacity": 1, "symbolStrokeWidth": 1.5}},
   "shape": {"field": "k", "type": "nominal", "scale": {"domain": ["True", "Mean", "95-perc."], "range": ["M-2,0H2", "M-2,0H2", "M-1.7,-1.7H1.7V1.7H-1.7Z"]}, "legend": {"title": null, "orient": "top-left", "offset": 5, "padding": 0, "symbolSize": 36, "symbolOffset": 4, "labelOffset": 4, "rowPadding": 1.5, "labelFontSize": 12, "symbolOpacity": 1, "symbolStrokeWidth": 1.5}}}}
 ]}
],
"spacing": 70.5, "bounds": "flush",
"resolve": {"scale": {"fill": "independent", "stroke": "independent", "shape": "independent"}, "legend": {"fill": "independent", "stroke": "independent", "shape": "independent"}}
},
{
"vconcat": [
{"width": 162, "height": 120, "title": "(f) Biaxial Tension",
 "encoding": {"x": {"field": "g", "type": "quantitative", "scale": {"domain": [-0.05, 1.05], "nice": false}, "axis": {"values": [0, 0.25, 0.5, 0.75, 1], "tickCount": 60, "format": ".2f", "title": "Deformation (γ)", "labelFontSize": 10.5}}},
 "layer": [
  {"data": {"name": "curves"}, "transform": [{"filter": "datum.p === 'f'"}], "mark": {"type": "area", "interpolate": "monotone", "clip": true, "color": "#bdbdbd"}, "encoding": {"y": {"field": "lo", "type": "quantitative", "scale": {"domain": [0, 19.5], "nice": false}, "axis": {"values": [0, 5, 10, 15], "tickCount": 60, "format": "d", "title": "W(γ)", "labelFontSize": 10.5}}, "y2": {"field": "hi"}}},
  {"data": {"name": "curves"}, "transform": [{"filter": "datum.p === 'f'"}], "mark": {"type": "line", "interpolate": "monotone", "strokeWidth": 1.3, "clip": true, "color": "#ff2020"}, "encoding": {"y": {"field": "t", "type": "quantitative", "axis": {"tickCount": 60}}}},
  {"data": {"name": "curves"}, "transform": [{"filter": "datum.p === 'f'"}], "mark": {"type": "line", "interpolate": "monotone", "strokeWidth": 1.3, "clip": true, "color": "#000000"}, "encoding": {"y": {"field": "m", "type": "quantitative", "axis": {"tickCount": 60}}}},
  {"data": {"name": "legS"}, "mark": {"type": "point", "opacity": 0}, "encoding": {"x": {"datum": 0.5, "type": "quantitative"}, "y": {"datum": 0, "type": "quantitative"},
   "fill": {"field": "k", "type": "nominal", "scale": {"domain": ["True", "Mean", "95-perc."], "range": ["transparent", "transparent", "#bdbdbd"]}, "legend": {"title": null, "orient": "top-left", "offset": 5, "padding": 0, "symbolSize": 36, "symbolOffset": 4, "labelOffset": 4, "rowPadding": 1.5, "labelFontSize": 12, "symbolOpacity": 1, "symbolStrokeWidth": 1.5}},
   "stroke": {"field": "k", "type": "nominal", "scale": {"domain": ["True", "Mean", "95-perc."], "range": ["#ff3030", "#000000", "#bdbdbd"]}, "legend": {"title": null, "orient": "top-left", "offset": 5, "padding": 0, "symbolSize": 36, "symbolOffset": 4, "labelOffset": 4, "rowPadding": 1.5, "labelFontSize": 12, "symbolOpacity": 1, "symbolStrokeWidth": 1.5}},
   "shape": {"field": "k", "type": "nominal", "scale": {"domain": ["True", "Mean", "95-perc."], "range": ["M-2,0H2", "M-2,0H2", "M-1.7,-1.7H1.7V1.7H-1.7Z"]}, "legend": {"title": null, "orient": "top-left", "offset": 5, "padding": 0, "symbolSize": 36, "symbolOffset": 4, "labelOffset": 4, "rowPadding": 1.5, "labelFontSize": 12, "symbolOpacity": 1, "symbolStrokeWidth": 1.5}}}}
 ]},
{"width": 162, "height": 120, "title": "(g) Compression",
 "encoding": {"x": {"field": "g", "type": "quantitative", "scale": {"domain": [-0.05, 1.05], "nice": false}, "axis": {"values": [0, 0.25, 0.5, 0.75, 1], "tickCount": 60, "format": ".2f", "title": "Deformation (γ)", "labelFontSize": 10.5}}},
 "layer": [
  {"data": {"name": "curves"}, "transform": [{"filter": "datum.p === 'g'"}], "mark": {"type": "area", "interpolate": "monotone", "clip": true, "color": "#bdbdbd"}, "encoding": {"y": {"field": "lo", "type": "quantitative", "scale": {"domain": [0, 2.34], "nice": false}, "axis": {"values": [0, 0.5, 1, 1.5, 2], "tickCount": 60, "format": ".1f", "title": "W(γ)", "labelFontSize": 10.5}}, "y2": {"field": "hi"}}},
  {"data": {"name": "curves"}, "transform": [{"filter": "datum.p === 'g'"}], "mark": {"type": "line", "interpolate": "monotone", "strokeWidth": 1.3, "clip": true, "color": "#ff2020"}, "encoding": {"y": {"field": "t", "type": "quantitative", "axis": {"tickCount": 60}}}},
  {"data": {"name": "curves"}, "transform": [{"filter": "datum.p === 'g'"}], "mark": {"type": "line", "interpolate": "monotone", "strokeWidth": 1.3, "clip": true, "color": "#000000"}, "encoding": {"y": {"field": "m", "type": "quantitative", "axis": {"tickCount": 60}}}},
  {"data": {"name": "legS"}, "mark": {"type": "point", "opacity": 0}, "encoding": {"x": {"datum": 0.5, "type": "quantitative"}, "y": {"datum": 0, "type": "quantitative"},
   "fill": {"field": "k", "type": "nominal", "scale": {"domain": ["True", "Mean", "95-perc."], "range": ["transparent", "transparent", "#bdbdbd"]}, "legend": {"title": null, "orient": "top-left", "offset": 5, "padding": 0, "symbolSize": 36, "symbolOffset": 4, "labelOffset": 4, "rowPadding": 1.5, "labelFontSize": 12, "symbolOpacity": 1, "symbolStrokeWidth": 1.5}},
   "stroke": {"field": "k", "type": "nominal", "scale": {"domain": ["True", "Mean", "95-perc."], "range": ["#ff3030", "#000000", "#bdbdbd"]}, "legend": {"title": null, "orient": "top-left", "offset": 5, "padding": 0, "symbolSize": 36, "symbolOffset": 4, "labelOffset": 4, "rowPadding": 1.5, "labelFontSize": 12, "symbolOpacity": 1, "symbolStrokeWidth": 1.5}},
   "shape": {"field": "k", "type": "nominal", "scale": {"domain": ["True", "Mean", "95-perc."], "range": ["M-2,0H2", "M-2,0H2", "M-1.7,-1.7H1.7V1.7H-1.7Z"]}, "legend": {"title": null, "orient": "top-left", "offset": 5, "padding": 0, "symbolSize": 36, "symbolOffset": 4, "labelOffset": 4, "rowPadding": 1.5, "labelFontSize": 12, "symbolOpacity": 1, "symbolStrokeWidth": 1.5}}}}
 ]},
{"width": 162, "height": 120, "title": "(h) Biaxial Compression",
 "encoding": {"x": {"field": "g", "type": "quantitative", "scale": {"domain": [-0.05, 1.05], "nice": false}, "axis": {"values": [0, 0.25, 0.5, 0.75, 1], "tickCount": 60, "format": ".2f", "title": "Deformation (γ)", "labelFontSize": 10.5}}},
 "layer": [
  {"data": {"name": "curves"}, "transform": [{"filter": "datum.p === 'h'"}], "mark": {"type": "area", "interpolate": "monotone", "clip": true, "color": "#bdbdbd"}, "encoding": {"y": {"field": "lo", "type": "quantitative", "scale": {"domain": [0, 2.9], "nice": false}, "axis": {"values": [0, 1, 2], "tickCount": 60, "format": "d", "title": "W(γ)", "labelFontSize": 10.5}}, "y2": {"field": "hi"}}},
  {"data": {"name": "curves"}, "transform": [{"filter": "datum.p === 'h'"}], "mark": {"type": "line", "interpolate": "monotone", "strokeWidth": 1.3, "clip": true, "color": "#ff2020"}, "encoding": {"y": {"field": "t", "type": "quantitative", "axis": {"tickCount": 60}}}},
  {"data": {"name": "curves"}, "transform": [{"filter": "datum.p === 'h'"}], "mark": {"type": "line", "interpolate": "monotone", "strokeWidth": 1.3, "clip": true, "color": "#000000"}, "encoding": {"y": {"field": "m", "type": "quantitative", "axis": {"tickCount": 60}}}},
  {"data": {"name": "legS"}, "mark": {"type": "point", "opacity": 0}, "encoding": {"x": {"datum": 0.5, "type": "quantitative"}, "y": {"datum": 0, "type": "quantitative"},
   "fill": {"field": "k", "type": "nominal", "scale": {"domain": ["True", "Mean", "95-perc."], "range": ["transparent", "transparent", "#bdbdbd"]}, "legend": {"title": null, "orient": "top-left", "offset": 5, "padding": 0, "symbolSize": 36, "symbolOffset": 4, "labelOffset": 4, "rowPadding": 1.5, "labelFontSize": 12, "symbolOpacity": 1, "symbolStrokeWidth": 1.5}},
   "stroke": {"field": "k", "type": "nominal", "scale": {"domain": ["True", "Mean", "95-perc."], "range": ["#ff3030", "#000000", "#bdbdbd"]}, "legend": {"title": null, "orient": "top-left", "offset": 5, "padding": 0, "symbolSize": 36, "symbolOffset": 4, "labelOffset": 4, "rowPadding": 1.5, "labelFontSize": 12, "symbolOpacity": 1, "symbolStrokeWidth": 1.5}},
   "shape": {"field": "k", "type": "nominal", "scale": {"domain": ["True", "Mean", "95-perc."], "range": ["M-2,0H2", "M-2,0H2", "M-1.7,-1.7H1.7V1.7H-1.7Z"]}, "legend": {"title": null, "orient": "top-left", "offset": 5, "padding": 0, "symbolSize": 36, "symbolOffset": 4, "labelOffset": 4, "rowPadding": 1.5, "labelFontSize": 12, "symbolOpacity": 1, "symbolStrokeWidth": 1.5}}}}
 ]}
],
"spacing": 70.5, "bounds": "flush",
"resolve": {"scale": {"fill": "independent", "stroke": "independent", "shape": "independent"}, "legend": {"fill": "independent", "stroke": "independent", "shape": "independent"}}
}
],
"config": {
 "font": "DejaVu Serif",
 "view": {"stroke": "#555555", "strokeWidth": 1},
 "axis": {"grid": false, "domain": false, "tickSize": 4, "tickColor": "#222222", "labelFontSize": 12, "labelColor": "#111111", "titleFontSize": 14, "titleFontWeight": "normal", "titleColor": "#111111", "labelPadding": 3, "titlePadding": 5, "labelOverlap": false, "tickCount": 60},
 "axisX": {"titlePadding": 2},
 "title": {"fontSize": 14, "fontWeight": "normal", "color": "#111111", "offset": 3, "frame": "group"},
 "legend": {"labelColor": "#111111"}
}
}
